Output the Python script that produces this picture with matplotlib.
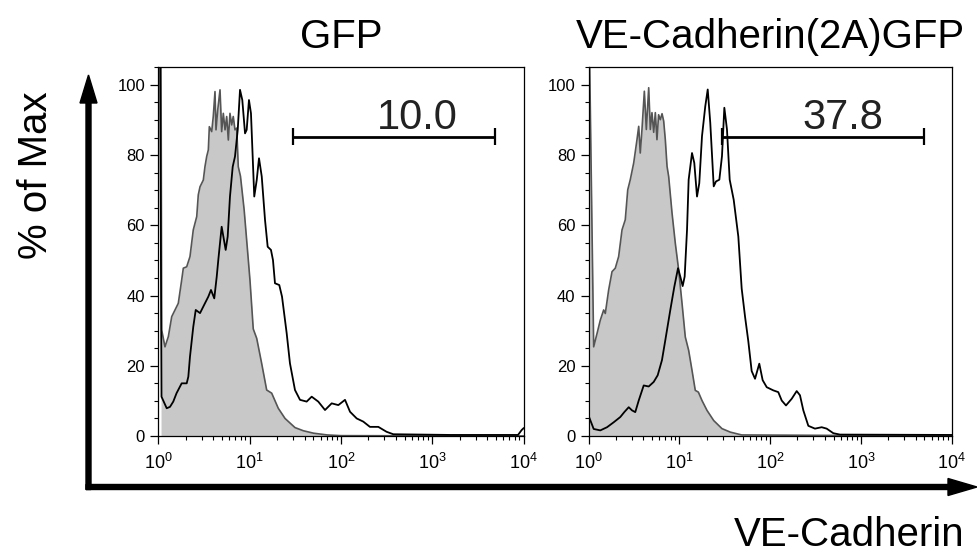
import matplotlib
matplotlib.use("Agg")
import matplotlib.pyplot as plt
import numpy as np
from matplotlib.patches import FancyArrow
from matplotlib.ticker import LogLocator, MultipleLocator

plt.rcParams["font.family"] = ["Liberation Sans", "DejaVu Sans"]
plt.rcParams["mathtext.fontset"] = "custom"
plt.rcParams["mathtext.rm"] = "Liberation Sans"

# histogram traces: x in decades (log10 intensity), y in % of max
panel_titles = ["GFP", "VE-Cadherin(2A)GFP"]
gate_pct = ["10.0", "37.8"]
gate_lo_dec = [1.472, 1.474]
gate_hi_dec = [3.688, 3.695]
gate_level = [85.3, 85.3]
gate_text_dec = [2.839, 2.80]

gfp_ctrl_x = [0.03, 0.037, 0.073, 0.11, 0.147, 0.183, 0.219, 0.256, 0.274, 0.311, 0.347,
              0.383, 0.421, 0.438, 0.457, 0.493, 0.511, 0.530, 0.548, 0.559, 0.585, 0.602,
              0.621, 0.632, 0.651, 0.676, 0.694, 0.712, 0.731, 0.749, 0.767, 0.785, 0.804,
              0.821, 0.84, 0.859, 0.876, 0.9, 0.94, 0.986, 1.004, 1.04, 1.078, 1.132, 1.187,
              1.242, 1.314, 1.388, 1.497, 1.588, 1.7, 1.85, 2.0, 4.0]
gfp_ctrl_y = [106, 30.2, 25.4, 28.3, 34.0, 35.9, 37.8, 44.4, 47.8, 48.2, 51.1,
              58.7, 62.5, 68.7, 71.0, 72.9, 76.7, 79.6, 81.5, 88.1, 86.7, 91.0,
              98.1, 87.2, 92.9, 98.6, 86.7, 91.9, 87.2, 91.0, 84.3, 91.9, 88.6,
              91.0, 87.2, 87.7, 76.7, 74.0, 64.5, 50.1, 44.4, 30.5, 27.8, 20.7, 13.1,
              12.2, 7.9, 5.0, 2.4, 1.5, 0.8, 0.3, 0.1, 0.0]

gfp_stain_x = [0.02, 0.035, 0.092, 0.128, 0.164, 0.2, 0.256, 0.311, 0.329, 0.347, 0.383,
               0.41, 0.457, 0.511, 0.548, 0.577, 0.613, 0.64, 0.657, 0.694, 0.738, 0.76,
               0.785, 0.815, 0.84, 0.87, 0.895, 0.92, 0.95, 0.968, 0.993, 1.015, 1.051,
               1.078, 1.103, 1.133, 1.169, 1.198, 1.234, 1.256, 1.278, 1.325, 1.355, 1.406,
               1.442, 1.497, 1.552, 1.625, 1.68, 1.752, 1.826, 1.899, 1.972, 2.045, 2.1,
               2.173, 2.245, 2.318, 2.41, 2.5, 2.574, 3.2, 3.94, 3.98, 4.0]
gfp_stain_y = [106, 11.2, 7.9, 8.3, 9.8, 12.2, 15.0, 15.0, 16.9, 22.6, 31.1,
               35.9, 35.0, 37.8, 39.7, 41.6, 39.2, 45.4, 50.1, 59.6, 53.0, 56.8,
               68.2, 76.7, 79.6, 87.2, 98.6, 95.7, 86.2, 87.2, 95.7, 91.9, 68.2,
               72.9, 79.1, 73.9, 61.5, 53.9, 53.0, 50.1, 43.5, 43.0, 39.7, 29.3,
               20.7, 13.1, 10.3, 9.8, 11.2, 9.8, 7.4, 9.3, 8.8, 10.3, 6.9,
               5.0, 4.1, 2.6, 2.6, 1.2, 0.5, 0.3, 0.3, 1.7, 2.2]

ve_ctrl_x = [0.013, 0.057, 0.094, 0.13, 0.167, 0.185, 0.222, 0.259, 0.295, 0.332, 0.369,
             0.405, 0.432, 0.46, 0.498, 0.534, 0.553, 0.57, 0.589, 0.615, 0.637, 0.663,
             0.681, 0.699, 0.718, 0.736, 0.754, 0.772, 0.791, 0.81, 0.828, 0.846, 0.865,
             0.883, 0.92, 0.956, 0.993, 1.03, 1.066, 1.103, 1.14, 1.176, 1.21, 1.25,
             1.305, 1.379, 1.47, 1.562, 1.687, 4.0]
ve_ctrl_y = [106, 25.4, 29.2, 33.0, 35.9, 34.9, 41.6, 46.8, 47.8, 51.1, 58.7,
             61.6, 70.1, 73.0, 77.8, 84.4, 88.2, 80.6, 87.3, 98.2, 87.3, 99.2,
             87.3, 92.1, 86.5, 92.1, 84.4, 91.5, 90.1, 91.8, 89.7, 84.4, 76.8,
             73.9, 63.5, 54.9, 47.3, 37.8, 28.2, 24.4, 18.7, 13.0, 12.5, 10.1,
             7.3, 4.4, 2.1, 1.1, 0.3, 0.0]

ve_stain_x = [0.005, 0.057, 0.13, 0.204, 0.277, 0.35, 0.394, 0.443, 0.479, 0.515, 0.553,
              0.608, 0.663, 0.718, 0.762, 0.809, 0.846, 0.901, 0.945, 0.986, 1.011, 1.037,
              1.059, 1.085, 1.103, 1.14, 1.165, 1.195, 1.22, 1.25, 1.286, 1.313, 1.341,
              1.379, 1.404, 1.441, 1.47, 1.496, 1.525, 1.555, 1.599, 1.65, 1.687, 1.724,
              1.76, 1.797, 1.834, 1.881, 1.918, 1.963, 2.035, 2.09, 2.128, 2.175, 2.238,
              2.293, 2.329, 2.366, 2.421, 2.494, 2.568, 2.623, 2.696, 2.77, 4.0]
ve_stain_y = [5.5, 2.0, 1.6, 2.5, 3.9, 5.4, 6.8, 8.2, 7.3, 6.8, 10.1,
              14.4, 14.1, 15.4, 17.3, 21.6, 27.3, 35.9, 42.5, 47.8, 45.4, 42.7,
              45.4, 58.7, 73.0, 80.6, 77.8, 68.2, 72.0, 85.4, 93.9, 98.7, 89.2,
              71.1, 72.5, 73.0, 79.7, 93.5, 87.3, 73.0, 67.3, 56.8, 42.0, 34.0,
              27.0, 18.5, 16.3, 20.6, 15.9, 13.9, 13.0, 12.5, 10.1, 8.7, 10.6,
              12.8, 11.6, 7.3, 2.9, 2.1, 2.5, 2.1, 0.8, 0.4, 0.3]

panels = [
    (gfp_ctrl_x, gfp_ctrl_y, gfp_stain_x, gfp_stain_y),
    (ve_ctrl_x, ve_ctrl_y, ve_stain_x, ve_stain_y),
]

W, H = 978, 558
fig = plt.figure(figsize=(W / 100, H / 100), dpi=100)

ax_left_px = [158.3, 588.5]
ax_right_px = [523.5, 951.7]
ax_top_px, ax_bot_px = 67, 436

for i, (cx, cy, sx, sy) in enumerate(panels):
    ax = fig.add_axes([ax_left_px[i] / W, (H - ax_bot_px) / H,
                       (ax_right_px[i] - ax_left_px[i]) / W, (ax_bot_px - ax_top_px) / H])
    cx = 10 ** np.array(cx)
    sx = 10 ** np.array(sx)
    ax.fill_between(cx, cy, 0, color="#c8c8c8", lw=0)
    ax.plot(cx, cy, color="#555555", lw=1.2)
    ax.plot(sx, sy, color="black", lw=1.3)

    lo, hi, gy = 10 ** gate_lo_dec[i], 10 ** gate_hi_dec[i], gate_level[i]
    ax.plot([lo, hi], [gy, gy], color="black", lw=2.0, solid_capstyle="butt")
    ax.vlines([lo, hi], gy - 2.5, gy + 2.5, color="black", lw=1.6)
    ax.text(10 ** gate_text_dec[i], 87.4, gate_pct[i], ha="center", va="baseline",
            fontsize=30, color="#222222")

    ax.set_xscale("log")
    ax.set_xlim(1, 1e4)
    ax.set_ylim(0, 105.1)
    ax.xaxis.set_major_locator(LogLocator(base=10))
    ax.xaxis.set_minor_locator(LogLocator(base=10, subs=np.arange(2, 10)))
    ax.yaxis.set_major_locator(MultipleLocator(20))
    ax.yaxis.set_minor_locator(MultipleLocator(5))
    ax.tick_params(which="major", direction="out", length=6, width=0.9, labelsize=12)
    ax.tick_params(which="minor", direction="out", length=3, width=0.8)
    ax.tick_params(axis="x", which="major", labelsize=13, pad=6)
    for s in ax.spines.values():
        s.set_linewidth(0.9)
    ax.set_title(panel_titles[i], fontsize=29, pad=14)

# big axis arrows
fig.add_artist(FancyArrow(0.885, (H - 489.5) / 100, 0, (489.5 - 75) / 100,
                          width=0.05, head_width=0.17, head_length=0.28,
                          length_includes_head=True, color="black",
                          transform=fig.dpi_scale_trans))
fig.add_artist(FancyArrow(0.86, (H - 487) / 100, (977 - 86) / 100, 0,
                          width=0.05, head_width=0.17, head_length=0.29,
                          length_includes_head=True, color="black",
                          transform=fig.dpi_scale_trans))

fig.text(36 / W, 1 - 175 / H, "% of Max", rotation=90, ha="center", va="center", fontsize=29)
fig.text(964 / W, (H - 546) / H, "VE-Cadherin", ha="right", va="baseline", fontsize=29)

fig.savefig("out.png", dpi=100)
